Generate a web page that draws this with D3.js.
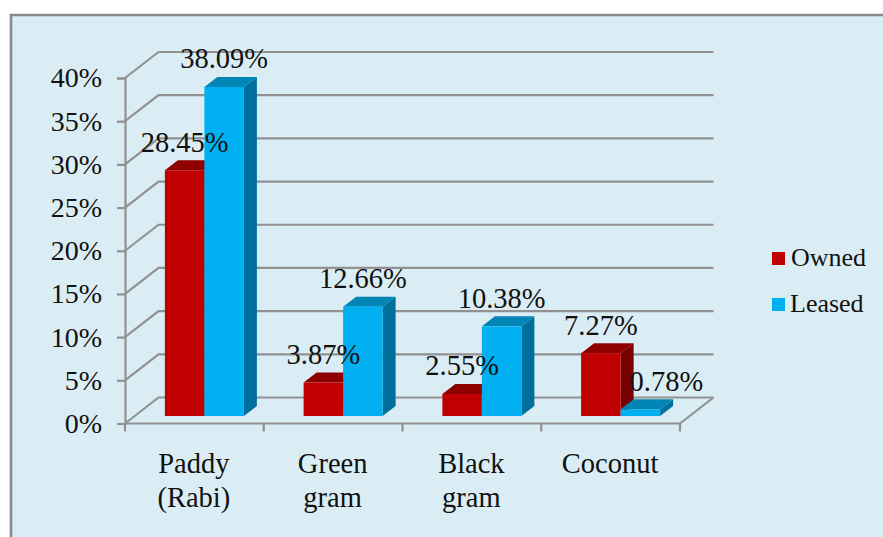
<!DOCTYPE html>
<html>
<head>
<meta charset="utf-8">
<script src="https://cdn.jsdelivr.net/npm/d3@7/dist/d3.min.js"></script>
<style>
html, body { margin: 0; padding: 0; background: #fff; }
svg { display: block; }
text { font-family: "Liberation Serif", serif; fill: #111; }
</style>
</head>
<body>
<svg id="chart" width="883" height="537"></svg>
<script>
// Crop shares by land tenure
const categories = [["Paddy", "(Rabi)"], ["Green", "gram"], ["Black", "gram"], ["Coconut"]];
const seriesNames = ["Owned", "Leased"];
const owned = [28.45, 3.87, 2.55, 7.27];
const leased = [38.09, 12.66, 10.38, 0.78];
const yTicks = [0, 5, 10, 15, 20, 25, 30, 35, 40];

const palette = {
  Owned:  { front: "#C00000", top: "#8E0000", side: "#780000" },
  Leased: { front: "#00B0F0", top: "#0085B5", side: "#006F9E" }
};

const svg = d3.select("#chart");
const plot = { left: 125, right: 680, bottom: 423.5, top: 78 };
const wall = { dx: 33.5, dy: -26 };      // floor depth of the chart box
const barDepth = { dx: 13, dy: -10 };    // depth of each bar
const barInset = { dx: 0, dy: -7.5 };    // bars stand slightly back from the front edge
const barShift = 10;
const gridColor = "#919191";
const labelSize = 28.5;

// Panel with its border on the top and left sides
svg.append("rect").attr("x", 11).attr("y", 15).attr("width", 872).attr("height", 522).attr("fill", "#DBEDF4");
svg.append("path").attr("d", "M11,537V15H883").attr("fill", "none").attr("stroke", "#8A8A8A").attr("stroke-width", 2.6);

const y = d3.scaleLinear().domain([0, 40]).range([plot.bottom, plot.top]);
const x = d3.scaleBand().domain(d3.range(categories.length)).range([plot.left, plot.right]);
const groupInner = d3.scaleBand().domain(seriesNames).range([0, 79]);
const groupStart = (x.bandwidth() - 79) / 2 + barShift;

// Back wall gridlines and their slanted returns to the axis
const grid = svg.append("g").attr("fill", "none").attr("stroke", gridColor).attr("stroke-width", 2.2);
grid.selectAll("path.wall").data(yTicks).join("path").attr("class", "wall")
  .attr("d", t => `M${plot.left},${y(t)}L${plot.left + wall.dx},${y(t) + wall.dy}H${plot.right + wall.dx}`);
grid.append("path").attr("d", `M${plot.right},${plot.bottom}L${plot.right + wall.dx},${plot.bottom + wall.dy}`);

// Value axis
const yAxis = svg.append("g").attr("transform", `translate(${plot.left},0)`)
  .call(d3.axisLeft(y).tickValues(yTicks).tickSize(8).tickPadding(15).tickFormat(d => d + "%"));
yAxis.selectAll("path, line").attr("stroke", gridColor).attr("stroke-width", 2.2);
yAxis.selectAll("text").attr("font-size", 28).attr("font-family", "Liberation Serif").attr("fill", "#111").attr("dy", "0.32em");

// Category axis, ticks sit on the band boundaries
const xEdges = d3.range(categories.length + 1).map(i => plot.left + i * x.step());
const xAxis = svg.append("g").attr("stroke", gridColor).attr("stroke-width", 2.2);
xAxis.append("line").attr("x1", plot.left).attr("x2", plot.right).attr("y1", plot.bottom).attr("y2", plot.bottom);
xAxis.selectAll("line.tick").data(xEdges).join("line").attr("class", "tick")
  .attr("x1", d => d).attr("x2", d => d).attr("y1", plot.bottom).attr("y2", plot.bottom + 8);

const catLabels = svg.append("g").attr("text-anchor", "middle").attr("font-size", labelSize);
categories.forEach((lines, i) => {
  const cx = x(i) + x.bandwidth() / 2 - 0.5;
  const t = catLabels.append("text").attr("x", cx).attr("y", 473);
  lines.forEach((line, k) => {
    t.append("tspan").attr("x", cx).attr("dy", k ? 34 : 0).text(line);
  });
});

// Bars: front face, top and right side
const floorY = plot.bottom + barInset.dy;
const barTop = v => floorY - (y(0) - y(v));
const rows = categories.flatMap((_, i) => [
  { i, name: "Owned", v: owned[i] },
  { i, name: "Leased", v: leased[i] }
]);
const barX = d => x(d.i) + groupStart + groupInner(d.name);
const w = groupInner.bandwidth();

const bars = svg.append("g").selectAll("g").data(rows).join("g");
bars.append("path").attr("fill", d => palette[d.name].side)
  .attr("d", d => `M${barX(d) + w},${floorY}V${barTop(d.v)}l${barDepth.dx},${barDepth.dy}V${floorY + barDepth.dy}Z`);
bars.append("path").attr("fill", d => palette[d.name].top)
  .attr("d", d => `M${barX(d)},${barTop(d.v)}l${barDepth.dx},${barDepth.dy}h${w}l${-barDepth.dx},${-barDepth.dy}Z`);
bars.append("rect").attr("fill", d => palette[d.name].front)
  .attr("x", barX).attr("y", d => barTop(d.v)).attr("width", w).attr("height", d => floorY - barTop(d.v));

// Value labels; the smallest one is pushed right to clear its neighbour
svg.append("g").attr("text-anchor", "middle").attr("font-size", labelSize)
  .selectAll("text").data(rows).join("text")
  .attr("x", d => barX(d) + w / 2 + (d.v < 1 ? 26 : 0))
  .attr("y", d => barTop(d.v) - 18.5)
  .text(d => d.v.toFixed(2) + "%");

// Legend
const legend = svg.append("g").selectAll("g").data(seriesNames).join("g")
  .attr("transform", (d, i) => `translate(772,${252 + i * 46})`);
legend.append("rect").attr("width", 13).attr("height", 13).attr("fill", d => palette[d].front);
legend.append("text").attr("x", (d, i) => i ? 18 : 19).attr("y", 14).attr("font-size", 26).text(d => d);
</script>
</body>
</html>
